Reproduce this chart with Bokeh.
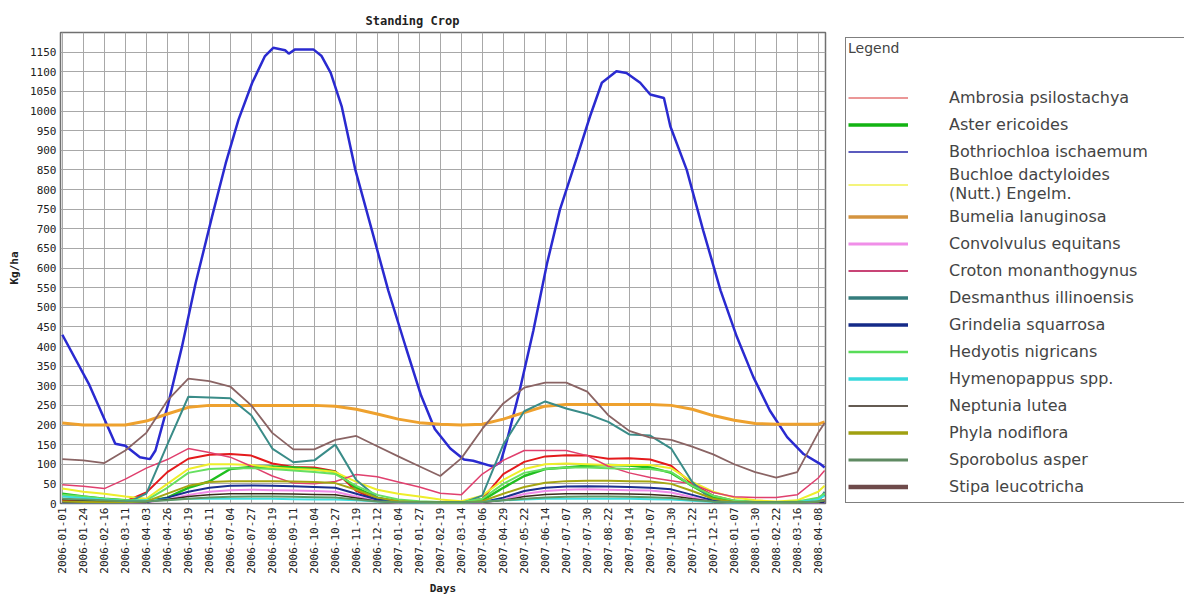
import math
from datetime import date
from bokeh.plotting import figure
from bokeh.layouts import row
from bokeh.models import Range1d, FixedTicker, Legend, LegendItem
from bokeh.embed import file_html
from bokeh.resources import INLINE

# ---------------- data ----------------
tick_labels = ["2006-01-01", "2006-01-24", "2006-02-16", "2006-03-11", "2006-04-03", "2006-04-26",
               "2006-05-19", "2006-06-11", "2006-07-04", "2006-07-27", "2006-08-19", "2006-09-11",
               "2006-10-04", "2006-10-27", "2006-11-19", "2006-12-12", "2007-01-04", "2007-01-27",
               "2007-02-19", "2007-03-14", "2007-04-06", "2007-04-29", "2007-05-22", "2007-06-14",
               "2007-07-07", "2007-07-30", "2007-08-22", "2007-09-14", "2007-10-07", "2007-10-30",
               "2007-11-22", "2007-12-15", "2008-01-07", "2008-01-30", "2008-02-22", "2008-03-16",
               "2008-04-08"]
start = date(2006, 1, 1)
tick_days = [(date.fromisoformat(s) - start).days for s in tick_labels]
last_day = 835
sample_days = tick_days + [last_day]

y_ticks = list(range(0, 1200, 50))

ambrosia = [8, 6, 5, 5, 28, 80, 114, 124, 126, 122, 102, 93, 92, 82, 32, 9, 4, 3, 3, 3,
            12, 75, 106, 120, 123, 122, 114, 115, 112, 96, 50, 20, 7, 4, 4, 4, 7, 9]
aster = [25, 18, 12, 8, 6, 15, 40, 56, 88, 93, 94, 92, 88, 80, 40, 15, 5, 3, 2, 2,
         8, 40, 70, 88, 92, 96, 98, 97, 92, 78, 45, 15, 5, 3, 2, 3, 10, 22]
buchloe = [38, 30, 25, 18, 12, 50, 88, 100, 100, 98, 92, 88, 86, 80, 55, 35, 25, 18, 10, 6,
           20, 60, 88, 100, 102, 100, 98, 98, 98, 90, 55, 30, 15, 8, 5, 8, 30, 45]
bumelia = [205, 200, 200, 200, 210, 228, 245, 250, 250, 250, 250, 250, 250, 248, 240, 228, 215, 206, 202, 200,
           202, 215, 232, 248, 252, 252, 252, 252, 252, 250, 240, 224, 212, 204, 202, 202, 202, 208]
convolvulus = [2, 2, 2, 2, 3, 10, 22, 30, 34, 35, 34, 33, 32, 30, 18, 6, 2, 2, 2, 2,
               2, 10, 24, 32, 35, 36, 35, 34, 33, 28, 16, 5, 2, 2, 2, 2, 2, 3]
croton = [48, 44, 38, 62, 90, 112, 140, 130, 118, 95, 70, 52, 50, 56, 74, 68, 55, 42, 26, 22,
          75, 110, 135, 135, 135, 122, 95, 78, 66, 58, 50, 28, 17, 15, 15, 22, 65, 84]
desmanthus = [0, 0, 0, 0, 25, 150, 272, 270, 268, 225, 140, 105, 110, 150, 60, 15, 3, 0, 0, 0,
              20, 150, 235, 260, 242, 228, 208, 176, 173, 140, 55, 5, 0, 0, 0, 0, 5, 30]
grindelia = [3, 3, 3, 3, 3, 15, 30, 40, 45, 46, 45, 44, 42, 40, 25, 10, 4, 3, 3, 3,
             3, 15, 32, 40, 43, 44, 43, 42, 40, 36, 22, 8, 3, 3, 3, 3, 3, 3]
hedyotis = [22, 18, 12, 8, 8, 40, 78, 88, 90, 90, 88, 84, 80, 75, 45, 22, 10, 6, 4, 3,
            12, 50, 78, 88, 92, 92, 90, 88, 88, 80, 45, 20, 8, 4, 3, 5, 15, 25]
hymenopappus = [18, 14, 10, 6, 8, 10, 12, 12, 12, 12, 12, 11, 10, 10, 8, 5, 3, 2, 2, 2,
                5, 8, 10, 12, 12, 12, 12, 12, 11, 10, 7, 4, 2, 2, 2, 3, 10, 20]
neptunia = [10, 8, 6, 5, 5, 10, 18, 22, 25, 25, 25, 24, 23, 22, 14, 6, 3, 3, 3, 3,
            3, 8, 18, 23, 25, 25, 25, 24, 23, 20, 12, 5, 3, 3, 3, 3, 4, 6]
phyla = [5, 4, 3, 3, 5, 25, 45, 55, 57, 57, 57, 56, 55, 52, 35, 15, 6, 3, 2, 2,
         6, 25, 42, 53, 57, 58, 58, 57, 56, 50, 32, 12, 4, 2, 2, 2, 5, 8]
sporobolus = [12, 10, 8, 6, 5, 8, 12, 15, 17, 18, 18, 17, 16, 15, 10, 5, 3, 3, 3, 3,
              4, 8, 12, 15, 17, 18, 18, 17, 16, 14, 9, 5, 3, 3, 3, 3, 5, 8]
stipa = [113, 110, 103, 135, 180, 262, 318, 312, 298, 250, 180, 138, 138, 162, 172, 146, 120, 95, 70, 115,
         190, 255, 295, 308, 308, 285, 225, 185, 168, 162, 145, 125, 100, 80, 66, 80, 180, 205]

bothriochloa_days = [0, 29, 58, 69, 85, 96, 102, 116, 131, 146, 164, 179, 193, 208, 222, 231, 244, 248,
                     255, 275, 284, 294, 306, 321, 339, 357, 376, 393, 408, 425, 440, 450, 472, 480,
                     487, 501, 516, 531, 545, 564, 578, 591, 607, 618, 633, 644, 659, 666, 684, 702,
                     721, 739, 757, 775, 794, 812, 830, 835]
bothriochloa = [430, 305, 152, 147, 118, 113, 135, 254, 399, 561, 731, 867, 978, 1072, 1140, 1161, 1155, 1146,
                1157, 1157, 1140, 1097, 1012, 850, 697, 543, 400, 275, 190, 140, 112, 109, 94, 105,
                160, 288, 441, 612, 748, 884, 986, 1072, 1101, 1097, 1072, 1042, 1033, 961, 850, 696,
                543, 424, 322, 237, 169, 126, 101, 92]

# name, x, y, plot colour, plot width, legend colour, legend width
series = [
    ("Ambrosia psilostachya", sample_days, ambrosia, "#e41a1c", 2.0, "#d83030", 1.2),
    ("Aster ericoides", sample_days, aster, "#1fbf1f", 2.5, "#12b312", 3.5),
    ("Bothriochloa ischaemum", bothriochloa_days, bothriochloa, "#2a2ad0", 2.5, "#2424a8", 1.3),
    ("Buchloe dactyloides\n(Nutt.) Engelm.", sample_days, buchloe, "#eeee2a", 2.0, "#f0f050", 1.5),
    ("Bumelia lanuginosa", sample_days, bumelia, "#eea12e", 3.0, "#d49440", 3.5),
    ("Convolvulus equitans", sample_days, convolvulus, "#f08ae8", 2.0, "#f08ee8", 3.0),
    ("Croton monanthogynus", sample_days, croton, "#e0406e", 1.5, "#c84476", 2.0),
    ("Desmanthus illinoensis", sample_days, desmanthus, "#3a8c88", 2.0, "#347c7c", 3.5),
    ("Grindelia squarrosa", sample_days, grindelia, "#1a2f8f", 2.0, "#142a88", 3.5),
    ("Hedyotis nigricans", sample_days, hedyotis, "#66e060", 2.0, "#58dc58", 2.5),
    ("Hymenopappus spp.", sample_days, hymenopappus, "#3ce0e0", 2.0, "#38d8dc", 3.5),
    ("Neptunia lutea", sample_days, neptunia, "#3a2a1a", 1.5, "#302418", 1.3),
    ("Phyla nodiflora", sample_days, phyla, "#a5a512", 2.0, "#a0a010", 3.5),
    ("Sporobolus asper", sample_days, sporobolus, "#5f9a66", 2.0, "#5f8a62", 3.0),
    ("Stipa leucotricha", sample_days, stipa, "#8a6464", 1.8, "#6e4a4a", 4.5),
]

# ---------------- main chart ----------------
p = figure(width=845, height=597, x_range=Range1d(-2, 836), y_range=Range1d(0, 1200),
           output_backend="svg", toolbar_location=None,
           min_border_left=60, min_border_right=20, min_border_top=32, min_border_bottom=94,
           background_fill_color="white", border_fill_color="white")

p.title.text = "Standing Crop"
p.title.text_font = "DejaVu Sans Mono"
p.title.text_font_size = "12px"
p.title.text_font_style = "bold"
p.title.align = "left"
p.title.offset = 305
p.title.text_color = "#222222"

p.outline_line_color = "#707070"
p.outline_line_width = 1.5

xt = FixedTicker(ticks=tick_days)
p.xaxis.ticker = xt
p.xaxis.major_label_overrides = {d: s for d, s in zip(tick_days, tick_labels)}
p.xaxis.major_label_orientation = math.pi / 2
p.xaxis.axis_label = "Days"
p.yaxis.ticker = FixedTicker(ticks=y_ticks)
p.yaxis.axis_label = "Kg/ha"

for ax in (p.xaxis[0], p.yaxis[0]):
    ax.axis_line_color = None
    ax.major_tick_line_color = None
    ax.minor_tick_line_color = None
    ax.major_tick_out = 0
    ax.major_tick_in = 0
    ax.major_label_text_font = "DejaVu Sans Mono"
    ax.major_label_text_font_size = "11px"
    ax.major_label_text_color = "#222222"
    ax.major_label_standoff = 4
    ax.axis_label_text_font = "DejaVu Sans Mono"
    ax.axis_label_text_font_size = "11px"
    ax.axis_label_text_font_style = "bold"
    ax.axis_label_text_color = "#222222"
p.xaxis.axis_label_standoff = 5
p.yaxis.axis_label_standoff = 6

p.xgrid.ticker = xt
p.ygrid.ticker = FixedTicker(ticks=list(range(0, 1201, 50)))
p.grid.grid_line_color = "#a8a8a8"
p.grid.grid_line_width = 1

for name, xs, ys, color, lw, _, _ in series:
    p.line(xs, ys, line_color=color, line_width=lw)

# ---------------- legend panel ----------------
lg = figure(width=339, height=597, x_range=Range1d(0, 1), y_range=Range1d(0, 1),
            output_backend="svg", toolbar_location=None, x_axis_type=None, y_axis_type=None,
            min_border_left=0, min_border_right=0, min_border_top=0, min_border_bottom=0,
            background_fill_color="white", border_fill_color="white", outline_line_color=None)
lg.grid.visible = False

items = []
for name, xs, ys, color, lw, lcolor, llw in series:
    # placeholder renderer (no visible data) that only carries the legend swatch style
    r = lg.line(x=[float("nan")], y=[float("nan")], line_color=lcolor, line_width=llw)
    items.append(LegendItem(label=name, renderers=[r]))

legend = Legend(items=items, location=(0, 0), title="Legend", ncols=1,
                title_text_font="DejaVu Sans", title_text_font_size="14px",
                title_text_font_style="normal", title_standoff=28,
                label_text_font="DejaVu Sans", label_text_font_size="16px",
                label_height=27, glyph_height=27,
                glyph_width=60, label_standoff=41, label_width=240, spacing=0,
                padding=2, margin=0, border_line_color="black", border_line_width=1.5,
                background_fill_color="white", background_fill_alpha=1.0)
lg.add_layout(legend)

open("out.html", "w").write(file_html(row(p, lg), INLINE))
